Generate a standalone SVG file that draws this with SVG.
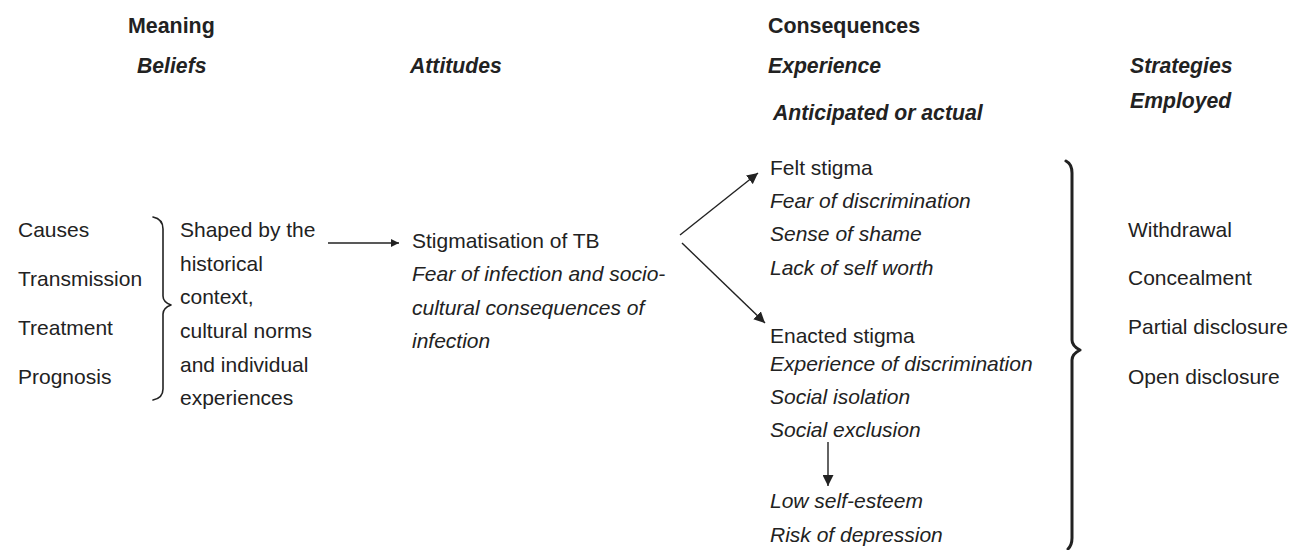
<svg xmlns="http://www.w3.org/2000/svg" width="1297" height="550" viewBox="0 0 1297 550">
  <style>
    text { font-family: "Liberation Sans", Arial, sans-serif; font-size: 21px; fill: #222; }
    .hd { font-weight: bold; font-size: 21.4px; }
    .sub { font-weight: bold; font-style: italic; font-size: 21.2px; }
    .it { font-style: italic; }
    .ln { stroke: #222; stroke-width: 1.4; fill: none; }
    .brace { stroke: #222; fill: none; stroke-linecap: round; stroke-linejoin: round; }
  </style>
  <defs>
    <marker id="arrow" viewBox="0 0 10 10" refX="10" refY="5" markerWidth="8" markerHeight="8" markerUnits="userSpaceOnUse" orient="auto">
      <path d="M0,0 L10,5 L0,10 z" fill="#222"/>
    </marker>
    <marker id="arrowL" viewBox="0 0 10 10" refX="10" refY="5" markerWidth="11" markerHeight="11" markerUnits="userSpaceOnUse" orient="auto">
      <path d="M0,0 L10,5 L0,10 z" fill="#222"/>
    </marker>
  </defs>

  <!-- Column headings -->
  <g id="headings">
    <text class="hd" x="128" y="33">Meaning</text>
    <text class="hd" x="768" y="33">Consequences</text>
    <text class="sub" x="137" y="73">Beliefs</text>
    <text class="sub" x="410" y="73">Attitudes</text>
    <text class="sub" x="768" y="73">Experience</text>
    <text class="sub" x="773" y="120">Anticipated or actual</text>
    <text class="sub" x="1130" y="73">Strategies</text>
    <text class="sub" x="1130" y="108">Employed</text>
  </g>

  <!-- Belief topics -->
  <g id="beliefs">
    <text x="18" y="237">Causes</text>
    <text x="18" y="286">Transmission</text>
    <text x="18" y="335">Treatment</text>
    <text x="18" y="384">Prognosis</text>
    <path class="brace" stroke-width="1.6" d="M153,217 Q163,219 163,229 L163,296 Q163,302 171,305 Q163,308 163,314 L163,389 Q163,398 153,400"/>
  </g>

  <g id="shaping">
    <text x="180" y="237">Shaped by the</text>
    <text x="180" y="271">historical</text>
    <text x="180" y="304">context,</text>
    <text x="180" y="338">cultural norms</text>
    <text x="180" y="372">and individual</text>
    <text x="180" y="405">experiences</text>
  </g>

  <g id="attitudes">
    <text x="412" y="248">Stigmatisation of TB</text>
    <text class="it" x="412" y="281">Fear of infection and socio-</text>
    <text class="it" x="412" y="315">cultural consequences of</text>
    <text class="it" x="412" y="348">infection</text>
  </g>

  <g id="felt-stigma">
    <text x="770" y="175">Felt stigma</text>
    <text class="it" x="770" y="208">Fear of discrimination</text>
    <text class="it" x="770" y="241">Sense of shame</text>
    <text class="it" x="770" y="275">Lack of self worth</text>
  </g>

  <g id="enacted-stigma">
    <text x="770" y="343">Enacted stigma</text>
    <text class="it" x="770" y="371">Experience of discrimination</text>
    <text class="it" x="770" y="404">Social isolation</text>
    <text class="it" x="770" y="437">Social exclusion</text>
  </g>

  <g id="outcomes">
    <text class="it" x="770" y="508">Low self-esteem</text>
    <text class="it" x="770" y="542">Risk of depression</text>
  </g>

  <g id="strategies">
    <path class="brace" stroke-width="3" d="M1066,161 Q1072,164 1072,173 L1072,340 Q1072,346 1080,350 Q1072,354 1072,360 L1072,538 Q1072,545 1068,549"/>
    <text x="1128" y="237">Withdrawal</text>
    <text x="1128" y="285">Concealment</text>
    <text x="1128" y="334">Partial disclosure</text>
    <text x="1128" y="384">Open disclosure</text>
  </g>

  <!-- Connectors -->
  <g id="connectors">
    <line class="ln" x1="328" y1="243" x2="399" y2="243" marker-end="url(#arrow)"/>
    <line class="ln" x1="680" y1="235" x2="758" y2="173" marker-end="url(#arrowL)"/>
    <line class="ln" x1="682" y1="243" x2="765" y2="323" marker-end="url(#arrowL)"/>
    <line class="ln" x1="828" y1="442" x2="828" y2="486" marker-end="url(#arrowL)"/>
  </g>
</svg>
